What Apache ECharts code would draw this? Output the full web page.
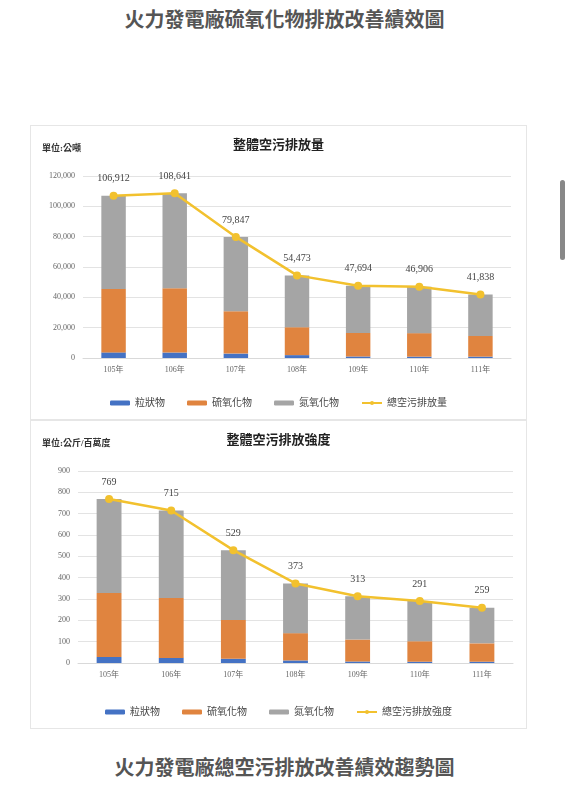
<!DOCTYPE html>
<html><head><meta charset="utf-8">
<script src="https://cdn.jsdelivr.net/npm/echarts@6/dist/echarts.min.js"></script>
<style>
body{margin:0;background:#fff;width:569px;height:800px;position:relative;overflow:hidden;font-family:"Noto Sans CJK TC",sans-serif}
.h{position:absolute;left:0;width:569px;text-align:center;font-size:20px;font-weight:bold;color:#555}
.box{position:absolute;left:30px;width:495px;border:1px solid #e6e6e6;background:#fff}
#sb{position:absolute;left:560px;top:180px;width:5px;height:80px;background:#888;border-radius:3px}
</style></head><body>
<div class="h" style="top:4px">火力發電廠硫氧化物排放改善績效圖</div>
<div id="c1" class="box" style="top:125px;height:293px"></div>
<div id="c2" class="box" style="top:420px;height:307px"></div>
<div class="h" style="top:752px">火力發電廠總空污排放改善績效趨勢圖</div>
<div id="sb"></div>
<script>
const years = ['105年','106年','107年','108年','109年','110年','111年'];
const pmAmt = [3700,3600,2900,1900,1000,900,900];
const soxAmt = [41800,42400,27900,18400,15500,15500,13600];
const noxAmt = [61412,62641,49047,34173,31194,30506,27338];
const totalAmt = [106912,108641,79847,54473,47694,46906,41838];
const pmInt = [28,24,20,12,7,6,6];
const soxInt = [300,281,182,128,103,96,86];
const noxInt = [441,410,327,233,203,189,167];
const totalInt = [769,715,529,373,313,291,259];

const serif = '"Liberation Serif","Noto Sans CJK TC",serif';
function build(el, title, unit, lineName, pm, sox, nox, total, yMax, yInt, grid, fmt) {
  const chart = echarts.init(document.getElementById(el));
  const bar = (name, data, color) => ({name, type:'bar', stack:'a', data, barWidth:'40%',
    itemStyle:{color}});
  chart.setOption({
    animation:false,
    title:[{text:title,left:'center',top:8,textStyle:{fontSize:13,fontWeight:'bold',color:'#222',fontFamily:serif}},
           {text:unit,left:6,top:13,textStyle:{fontSize:9,fontWeight:'bold',color:'#333',fontFamily:serif}}],
    grid:grid,
    legend:{bottom:6,itemGap:22,itemWidth:20,itemHeight:5,textStyle:{fontSize:10,color:'#444',fontFamily:serif},
      data:['粒狀物','硫氧化物','氮氧化物',lineName]},
    xAxis:{type:'category',data:years,axisTick:{show:false},axisLine:{lineStyle:{color:'#d9d9d9'}},
      axisLabel:{fontSize:8,color:'#666',fontFamily:serif,margin:8}},
    yAxis:{type:'value',min:0,max:yMax,interval:yInt,axisLine:{show:false},axisTick:{show:false},
      splitLine:{lineStyle:{color:'#e3e3e3'}},
      axisLabel:{fontSize:8,color:'#666',fontFamily:serif,formatter:fmt}},
    series:[bar('粒狀物',pm,'#4472c4'),bar('硫氧化物',sox,'#e0843f'),bar('氮氧化物',nox,'#a5a5a5'),
      {name:lineName,type:'line',data:total,symbol:'circle',symbolSize:8,
       itemStyle:{color:'#f2c12e'},lineStyle:{color:'#f2c12e',width:2.5},
       label:{show:true,position:'top',distance:8,fontSize:10,color:'#444',fontFamily:serif,formatter:p=>fmt(p.value)}}]
  });
}
const comma = v => v.toLocaleString('en-US');
build('c1','整體空污排放量','單位:公噸','總空污排放量',pmAmt,soxAmt,noxAmt,totalAmt,120000,20000,
  {left:52,right:15,top:50,bottom:61},comma);
build('c2','整體空污排放強度','單位:公斤/百萬度','總空污排放強度',pmInt,soxInt,noxInt,totalInt,900,100,
  {left:47,right:13,top:50,bottom:65},v=>String(v));
</script>
</body></html>
